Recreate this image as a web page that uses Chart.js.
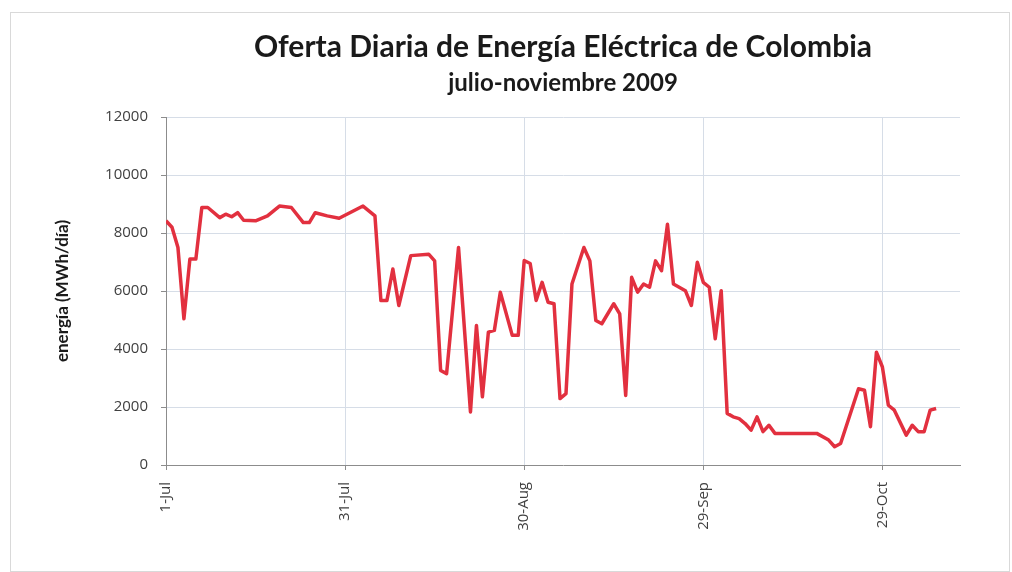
<!DOCTYPE html>
<html lang="es">
<head>
<meta charset="utf-8">
<title>Oferta Diaria de Energía Eléctrica de Colombia</title>
<script src="https://cdn.jsdelivr.net/npm/chart.js@4.4.1/dist/chart.umd.min.js"></script>
<style>
  html, body { margin: 0; padding: 0; background: #ffffff; }
  #wrap { position: relative; width: 1012px; height: 572px; }
  #frame {
    position: absolute; left: 10px; top: 12px; width: 998px; height: 558px;
    border: 1px solid #d9d9d9; pointer-events: none;
  }
</style>
</head>
<body>
<div id="wrap">
  <canvas id="ofertaChart" width="1012" height="572"></canvas>
  <div id="frame"></div>
</div>
<script>
// days counted from 1-Jul-2009, and the daily offer on those days (MWh/día)
const dayIndex = [
  0, 1, 2, 3, 4, 5, 6, 7, 9, 10, 11, 12, 13, 15, 17, 19, 21, 23, 24, 25, 27, 29,
  33, 35, 36, 37, 38, 39, 41, 44, 45, 46, 47, 49, 51, 52, 53, 54, 55, 56, 58, 59,
  60, 61, 62, 63, 64, 65, 66, 67, 68, 70, 71, 72, 73, 75, 76, 77, 78, 79, 80, 81,
  82, 83, 84, 85, 87, 88, 89, 90, 91, 92, 93, 94, 95, 96, 97, 98, 99, 100, 101,
  102, 109, 111, 112, 113, 116, 117, 118, 119, 120, 121, 122, 124, 125, 126, 127,
  128, 129
];
const offerMWh = [
  8420, 8200, 7500, 5040, 7100, 7100, 8880, 8880, 8530, 8650, 8560, 8700, 8440, 8420, 8590, 8930, 8880, 8360, 8360, 8700, 8590, 8510,
  8930, 8590, 5670, 5670, 6760, 5500, 7220, 7270, 7040, 3260, 3150, 7500, 1830, 4810, 2350, 4580, 4640, 5960, 4470, 4470,
  7050, 6950, 5670, 6300, 5610, 5560, 2290, 2460, 6240, 7500, 7040, 4980, 4870, 5560, 5210, 2400, 6470, 5960, 6240, 6130,
  7040, 6700, 8300, 6240, 6010, 5500, 6990, 6300, 6130, 4350, 6010, 1780, 1660, 1600, 1430, 1200, 1660, 1150, 1370,
  1090, 1090, 860, 630, 740, 2630, 2580, 1320, 3890, 3380, 2060, 1890, 1030, 1370, 1150, 1150,
  1890, 1950
];
// date labels shown every 30 days
const tickLabels = ["1-Jul", "31-Jul", "30-Aug", "29-Sep", "29-Oct"];

const chartTitle = "Oferta Diaria de Energía Eléctrica de Colombia";
const chartSubtitle = "julio-noviembre 2009";

const gridColor = "#d6dde7";
const axisColor = "#8c8c8c";
const labelColor = "#404040";

// title and subtitle centred over the plot area
const headingPlugin = {
  id: "heading",
  afterDraw(chart) {
    const { ctx, chartArea } = chart;
    const cx = (chartArea.left + chartArea.right) / 2;
    ctx.save();
    ctx.fillStyle = "#1a1a1a";
    ctx.textAlign = "center";
    ctx.textBaseline = "alphabetic";
    ctx.font = "bold 30px Lato";
    ctx.fillText(chartTitle, cx, 57);
    ctx.font = "bold 24px Lato";
    ctx.fillText(chartSubtitle, cx, 91);
    ctx.restore();
  },
};

function hideAtZero(ctx) {
  return ctx.tick && ctx.tick.value === 0 ? "rgba(0,0,0,0)" : gridColor;
}

function renderOfertaChart() {
  const points = dayIndex.map((d, i) => ({ x: d, y: offerMWh[i] }));

  const ctx = document.getElementById("ofertaChart").getContext("2d");
  new Chart(ctx, {
    type: "line",
    data: {
      datasets: [
        {
          label: "Oferta diaria",
          data: points,
          borderColor: "#e2303f",
          borderWidth: 3.5,
          borderJoinStyle: "round",
          pointRadius: 0,
          tension: 0,
          fill: false,
        },
      ],
    },
    options: {
      responsive: false,
      animation: false,
      devicePixelRatio: 1,
      layout: { padding: { left: 0, right: 52, top: 117, bottom: 0 } },
      plugins: {
        legend: { display: false },
        tooltip: { enabled: false },
      },
      scales: {
        x: {
          type: "linear",
          min: 0,
          max: 133,
          afterFit: (scale) => {
            scale.height = 572 - 465;
          },
          afterBuildTicks: (scale) => {
            scale.ticks = tickLabels.map((_, i) => ({ value: i * 30 }));
          },
          ticks: {
            minRotation: 90,
            maxRotation: 90,
            padding: 12,
            color: labelColor,
            font: { family: "Open Sans", size: 15 },
            callback: (value) => tickLabels[Math.round(value / 30)] ?? "",
          },
          grid: {
            color: hideAtZero,
            tickColor: axisColor,
            tickLength: 5,
          },
          border: { color: axisColor, width: 1 },
        },
        y: {
          min: 0,
          max: 12000,
          afterFit: (scale) => {
            scale.width = 166;
          },
          ticks: {
            stepSize: 2000,
            padding: 13,
            color: labelColor,
            font: { family: "Open Sans", size: 15 },
            callback: (value) => String(value),
          },
          grid: {
            color: hideAtZero,
            tickColor: axisColor,
            tickLength: 5,
          },
          border: { color: axisColor, width: 1 },
          title: {
            display: true,
            text: "energía (MWh/día)",
            color: "#1a1a1a",
            font: { family: "Lato", size: 17, weight: "bold" },
            padding: { top: 52, bottom: 0 },
          },
        },
      },
    },
    plugins: [headingPlugin],
  });
}

document.addEventListener("DOMContentLoaded", () => {
  renderOfertaChart();
});
</script>
</body>
</html>
